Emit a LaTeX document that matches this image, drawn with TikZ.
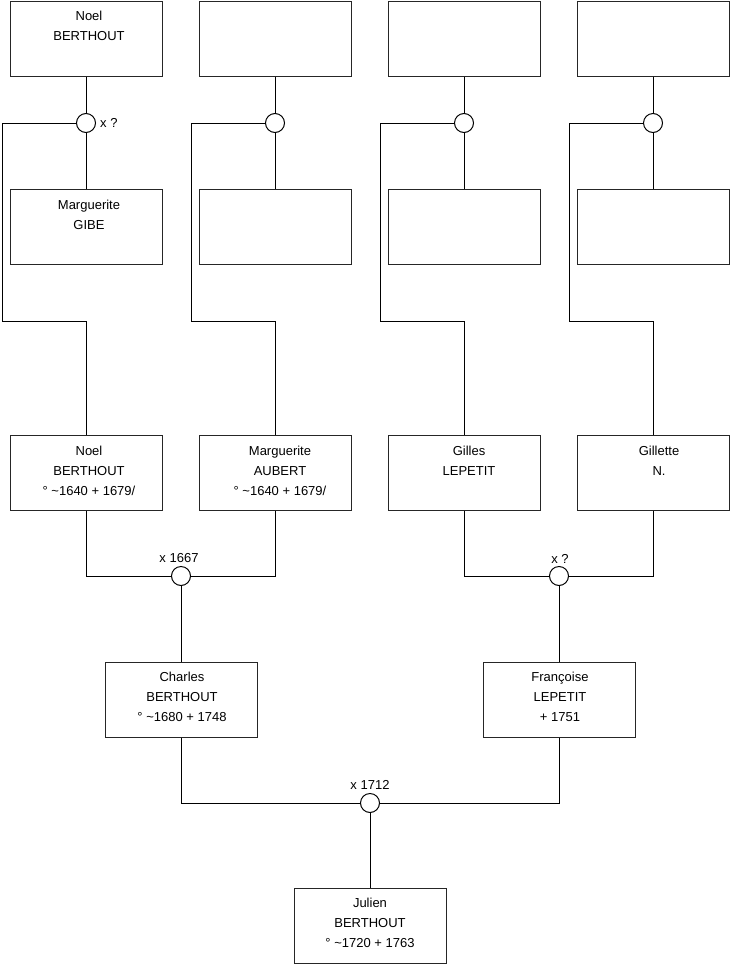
\documentclass[tikz,border=0pt]{standalone}
\usepackage{fontspec}
\setmainfont{Liberation Sans}
\begin{document}
\begin{tikzpicture}[x=1pt,y=-1pt,
  pbox/.style={draw=black!85, line width=1pt, minimum width=152pt, minimum height=75pt, inner sep=0pt},
  ptxt/.style={anchor=north, align=center, inner sep=0pt, font=\fontsize{13}{20}\selectfont},
  knot/.style={circle, draw=black, fill=white, line width=1pt, minimum size=19pt, inner sep=0pt},
  lab/.style={inner sep=0pt, font=\fontsize{13}{15}\selectfont},
  link/.style={line width=1pt, black}]
\useasboundingbox (0,0) rectangle (740,975);
% row 1
\node[pbox] (a1) at (86,38.5) {};
\node[pbox] (a2) at (275,38.5) {};
\node[pbox] (a3) at (464,38.5) {};
\node[pbox] (a4) at (653,38.5) {};
% row 2
\node[pbox] (b1) at (86,227) {};
\node[pbox] (b2) at (275,227) {};
\node[pbox] (b3) at (464,227) {};
\node[pbox] (b4) at (653,227) {};
% row 3
\node[pbox] (p1) at (86,473) {};
\node[pbox] (p2) at (275,473) {};
\node[pbox] (p3) at (464,473) {};
\node[pbox] (p4) at (653,473) {};
% row 4
\node[pbox] (ch) at (181,699.5) {};
\node[pbox] (fr) at (559,699.5) {};
% row 5
\node[pbox] (ju) at (370,925.5) {};
% texts
\node[ptxt] (t1) at ([xshift=3pt,yshift=-6pt]a1.north) {\strut Noel\\BERTHOUT};
\node[ptxt] (t2) at ([xshift=3pt,yshift=-6pt]b1.north) {\strut Marguerite\\GIBE};
\node[ptxt] (t3) at ([xshift=3pt,yshift=-6pt]p1.north) {\strut Noel\\BERTHOUT\\° \textasciitilde1640 + 1679/};
\node[ptxt] (t4) at ([xshift=5pt,yshift=-6pt]p2.north) {\strut Marguerite\\AUBERT\\° \textasciitilde1640 + 1679/};
\node[ptxt] (t5) at ([xshift=5pt,yshift=-6pt]p3.north) {\strut Gilles\\LEPETIT};
\node[ptxt] (t6) at ([xshift=6pt,yshift=-6pt]p4.north) {\strut Gillette\\N.};
\node[ptxt] (t7) at ([xshift=1pt,yshift=-6pt]ch.north) {\strut Charles\\BERTHOUT\\° \textasciitilde1680 + 1748};
\node[ptxt] (t8) at ([xshift=1pt,yshift=-6pt]fr.north) {\strut Françoise\\LEPETIT\\+ 1751};
\node[ptxt] (t9) at ([xshift=0pt,yshift=-6pt]ju.north) {\strut Julien\\BERTHOUT\\° \textasciitilde1720 + 1763};
% knots
\node[knot] (k1) at (86,123) {};
\node[knot] (k2) at (275,123) {};
\node[knot] (k3) at (464,123) {};
\node[knot] (k4) at (653,123) {};
\node[knot] (m1) at (181,576) {};
\node[knot] (m2) at (559,576) {};
\node[knot] (m3) at (370,803) {};
% corner coordinates
\coordinate (c1) at (2,321);
\coordinate (c2) at (191,321);
\coordinate (c3) at (380,321);
\coordinate (c4) at (569,321);
% links
\foreach \i in {1,2,3,4}{
  \draw[link] (a\i.south) -- (k\i.north);
  \draw[link] (k\i.south) -- (b\i.north);
  \draw[link] (k\i.west) -| (c\i) -| (p\i.north);
}
\draw[link] (p1.south) |- (m1.west);
\draw[link] (p2.south) |- (m1.east);
\draw[link] (p3.south) |- (m2.west);
\draw[link] (p4.south) |- (m2.east);
\draw[link] (m1.south) -- (ch.north);
\draw[link] (m2.south) -- (fr.north);
\draw[link] (ch.south) |- (m3.west);
\draw[link] (fr.south) |- (m3.east);
\draw[link] (m3.south) -- (ju.north);
% labels
\node[lab, anchor=west] (l1) at (100,123) {x ?};
\node[lab] (l2) at (179,558) {x 1667};
\node[lab] (l3) at (560,559) {x ?};
\node[lab] (l4) at (370,785) {x 1712};
\end{tikzpicture}
\end{document}
